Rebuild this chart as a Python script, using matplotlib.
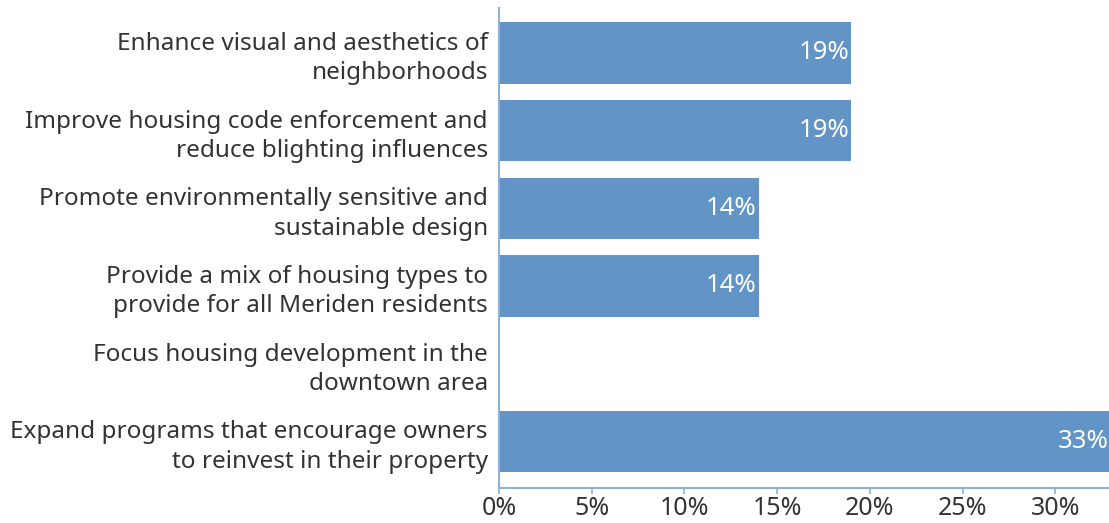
import matplotlib.pyplot as plt
import numpy as np

# survey responses - housing goals
goals = ["Enhance visual and aesthetics of\nneighborhoods",
         "Improve housing code enforcement and\nreduce blighting influences",
         "Promote environmentally sensitive and\nsustainable design",
         "Provide a mix of housing types to\nprovide for all Meriden residents",
         "Focus housing development in the\ndowntown area",
         "Expand programs that encourage owners\nto reinvest in their property"]
pct = [19, 19, 14, 14, 0, 33]
xticks = [0, 5, 10, 15, 20, 25, 30]

plt.rcParams['font.family'] = ['Noto Sans', 'DejaVu Sans']
bar_col = "#6394c6"
axis_col = "#8fb0d2"
txt_col = "#333333"

fig = plt.figure(figsize=(11.09, 5.23), dpi=100)
ax = fig.add_axes([0.45, 0.067, 0.55, 0.918])
y = np.arange(len(goals))
ax.barh(y, pct, height=0.79, color=bar_col)
for yi, v in zip(y, pct):
    if v > 0:
        ax.text(v - 0.1, yi, "%d%%" % v, ha="right", va="center",
                color="white", fontsize=18.5)

ax.set_xlim(0, 32.9)
ax.set_ylim(5.6, -0.58)
ax.set_yticks(y)
ax.set_yticklabels(goals, fontsize=17.5, color=txt_col, linespacing=1.3)
ax.set_xticks(xticks)
ax.set_xticklabels(["%d%%" % t for t in xticks], fontsize=18, color=txt_col)
ax.tick_params(axis="y", length=0, pad=8)
ax.tick_params(axis="x", length=4, color=axis_col, width=1.2, pad=2)
for s in ["top", "right"]:
    ax.spines[s].set_visible(False)
for s in ["left", "bottom"]:
    ax.spines[s].set_color(axis_col)
    ax.spines[s].set_linewidth(1.5)

fig.savefig("out.png", dpi=100)
